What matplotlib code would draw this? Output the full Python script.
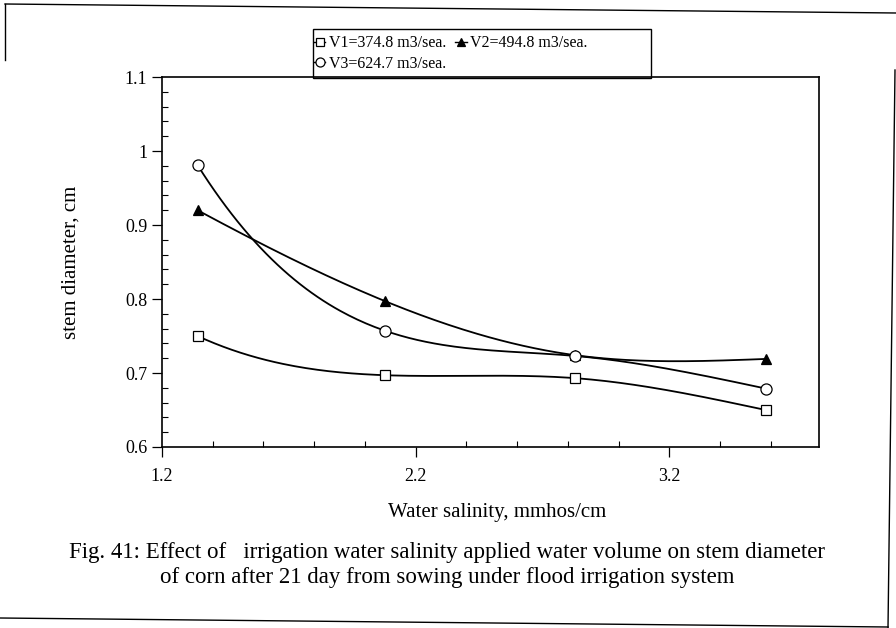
import numpy as np
import matplotlib
matplotlib.use("Agg")
import matplotlib.pyplot as plt
from matplotlib.lines import Line2D
from matplotlib.patches import Rectangle
from matplotlib.ticker import MultipleLocator, FixedLocator

plt.rcParams['font.family'] = ['Liberation Serif', 'DejaVu Serif']

salinity = [1.34, 2.08, 2.83, 3.58]
v1 = [0.750, 0.697, 0.693, 0.650]
v2 = [0.920, 0.797, 0.724, 0.719]
v3 = [0.981, 0.757, 0.723, 0.679]
labels = ['V1=374.8 m3/sea.', 'V2=494.8 m3/sea.', 'V3=624.7 m3/sea.']


def smooth(x, y, n=200):
    """Cubic spline: not-a-knot condition at the start, natural at the end."""
    x = np.asarray(x, float)
    y = np.asarray(y, float)
    m = len(x)
    h = np.diff(x)
    A = np.zeros((m, m))
    b = np.zeros(m)
    A[0, 0] = h[1]
    A[0, 1] = -(h[0] + h[1])
    A[0, 2] = h[0]
    A[-1, -1] = 1.0
    for i in range(1, m - 1):
        A[i, i - 1] = h[i - 1]
        A[i, i] = 2 * (h[i - 1] + h[i])
        A[i, i + 1] = h[i]
        b[i] = 6 * ((y[i + 1] - y[i]) / h[i] - (y[i] - y[i - 1]) / h[i - 1])
    M = np.linalg.solve(A, b)
    xs = np.linspace(x[0], x[-1], n)
    idx = np.clip(np.searchsorted(x, xs) - 1, 0, m - 2)
    xi, xj = x[idx], x[idx + 1]
    hi = h[idx]
    ys = (M[idx] * (xj - xs) ** 3 / (6 * hi) + M[idx + 1] * (xs - xi) ** 3 / (6 * hi)
          + (y[idx] / hi - M[idx] * hi / 6) * (xj - xs)
          + (y[idx + 1] / hi - M[idx + 1] * hi / 6) * (xs - xi))
    return xs, ys


fig = plt.figure(figsize=(8.96, 6.28), dpi=100)
ax = fig.add_axes([162 / 896, 1 - 447 / 628, (819 - 162) / 896, (447 - 77) / 628])

styles = [
    dict(marker='s', mfc='white', mec='black', ms=7, mew=0.9),
    dict(marker='^', mfc='black', mec='black', ms=7, mew=0.9),
    dict(marker='o', mfc='white', mec='black', ms=8, mew=0.9),
]
handles = []
for ys, st, lab in zip([v1, v2, v3], styles, labels):
    sx, sy = smooth(salinity, ys)
    ax.plot(sx, sy, color='black', lw=1.3, zorder=2)
    ax.plot(salinity, ys, linestyle='none', zorder=3, **st)
    handles.append(Line2D([0], [0], color='black', lw=1.0, **{**st, 'ms': st['ms'] - 1.5}))

ax.set_xlim(1.2, 3.79)
ax.set_ylim(0.6, 1.1)
ax.xaxis.set_major_locator(FixedLocator([1.2, 2.2, 3.2]))
ax.xaxis.set_minor_locator(MultipleLocator(0.2))
ax.yaxis.set_major_locator(FixedLocator([0.6, 0.7, 0.8, 0.9, 1.0, 1.1]))
ax.set_yticklabels(['0.6', '0.7', '0.8', '0.9', '1', '1.1'])
ax.yaxis.set_minor_locator(MultipleLocator(0.02))
ax.tick_params(which='major', direction='out', length=7, width=0.9, labelsize=13)
ax.tick_params(which='minor', direction='in', length=4, width=0.8)
ax.tick_params(axis='x', pad=8)
for s in ax.spines.values():
    s.set_linewidth(1.2)

ax.set_ylabel('stem diameter, cm', fontsize=15, labelpad=32)
fig.text(497 / 896, 1 - 513 / 628, 'Water salinity, mmhos/cm', ha='center', va='center', fontsize=15)
fig.text(447 / 896, 1 - 565 / 628,
         'Fig. 41: Effect of   irrigation water salinity applied water volume on stem diameter\n'
         'of corn after 21 day from sowing under flood irrigation system',
         ha='center', va='center', fontsize=16.5, linespacing=1.3)

leg = fig.legend([handles[0], handles[2], handles[1]], [labels[0], labels[2], labels[1]],
                 ncol=2, loc='upper left', bbox_to_anchor=(311 / 896, 1 - 32 / 628),
                 frameon=False, fontsize=11.5,
                 handlelength=0.7, handletextpad=0.2, columnspacing=0.6,
                 borderpad=0.2, labelspacing=0.3, borderaxespad=0)
fig.add_artist(Rectangle((313 / 896, 1 - 78 / 628), (651 - 313) / 896, (78 - 29) / 628,
                         transform=fig.transFigure, fill=False, edgecolor='black', lw=1.0))

# outer scan frame
for (x0, y0, x1, y1) in [(5, 4, 896, 13), (5, 4, 5, 60), (0, 618, 888, 627), (895, 70, 888, 628)]:
    fig.add_artist(Line2D([x0 / 896, x1 / 896], [1 - y0 / 628, 1 - y1 / 628],
                          transform=fig.transFigure, color='black', lw=1.0))

fig.savefig('out.png', dpi=100)
